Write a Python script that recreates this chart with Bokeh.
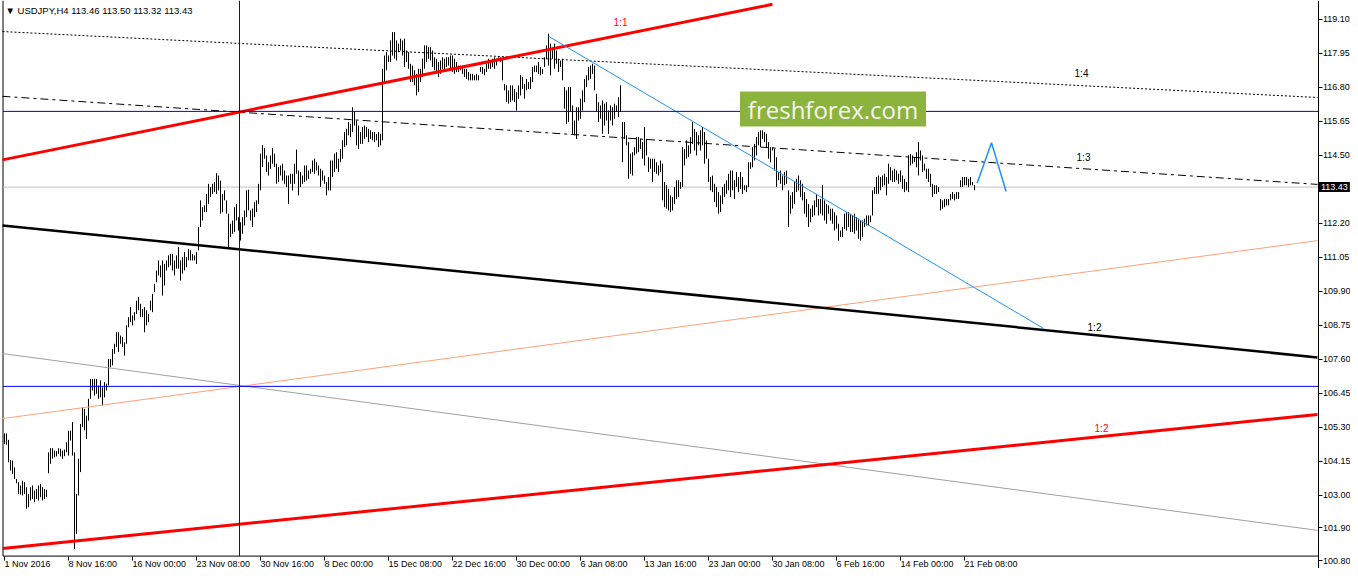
from bokeh.plotting import figure
from bokeh.models import FixedTicker, Label, NumeralTickFormatter, Range1d
from bokeh.embed import file_html
from bokeh.resources import INLINE

# ---------------- data ----------------
symbol_title = "\u25bc USDJPY,H4  113.46 113.50 113.32 113.43"
last_price = 113.43

# H4 bars (high, low), 1 Nov 2016 .. 23 Feb 2017
bars_nov = [
    (105.10, 104.74), (105.10, 104.72), (104.88, 104.12), (104.20, 103.84), (104.18, 103.73), (103.95, 103.56), (103.56, 103.41), (103.45, 103.05),
    (103.34, 103.03), (103.50, 103.00), (103.45, 103.05), (103.28, 102.55), (103.05, 102.60), (103.28, 102.83), (103.34, 102.88), (103.17, 102.77),
    (103.22, 102.88), (103.34, 102.83), (103.39, 102.94), (103.28, 102.83), (103.22, 102.88), (103.19, 102.94),
    (104.46, 103.75), (104.60, 104.07), (104.60, 104.24), (104.52, 104.29), (104.50, 104.32), (104.60, 104.41), (104.58, 104.32), (104.52, 104.24),
    (104.55, 104.33), (104.80, 104.46), (105.19, 104.35), (105.19, 104.86), (105.48, 104.35), (104.46, 101.19), (103.05, 101.70), (104.24, 103.00),
    (105.42, 103.79), (105.98, 105.31), (105.93, 105.20), (105.70, 104.91), (106.27, 105.53), (106.94, 106.27), (106.94, 106.55), (106.94, 106.38),
    (106.94, 106.44), (106.72, 106.27), (106.89, 106.32), (106.66, 106.04), (106.83, 106.32), (106.78, 106.55), (107.62, 106.72), (107.62, 107.34),
    (107.96, 107.40), (108.13, 107.79), (108.52, 108.02), (108.52, 107.85), (108.41, 108.13), (108.35, 108.02), (108.18, 107.73), (108.75, 108.13),
    (109.03, 108.69), (109.37, 108.86), (109.09, 108.75), (109.20, 108.92), (109.59, 109.14), (109.71, 109.26), (109.48, 109.03), (109.31, 109.03),
    (109.37, 108.52), (109.26, 108.75), (109.14, 108.86), (109.59, 109.26), (109.82, 109.20), (110.16, 109.88), (110.61, 110.21), (110.95, 110.44),
    (110.78, 110.38), (110.95, 109.76), (110.83, 110.10), (110.95, 110.61), (111.12, 110.72), (111.17, 110.78), (111.17, 110.61), (110.95, 110.44),
    (111.12, 110.67), (111.40, 110.67), (110.95, 110.27), (111.06, 110.50), (111.23, 110.61), (111.06, 110.72), (111.34, 110.95), (111.29, 110.95),
    (111.17, 110.95), (111.12, 110.95), (111.23, 110.83), (112.08, 111.29), (112.98, 112.08), (112.75, 112.30), (112.81, 112.58), (113.20, 112.58),
    (113.54, 112.86), (113.43, 113.09), (113.54, 113.20), (113.60, 113.26), (113.90, 113.20), (113.82, 113.32), (113.65, 112.53), (113.20, 112.58),
    (113.32, 112.98), (112.98, 112.53), (112.53, 111.40), (112.19, 111.74), (112.30, 111.85), (112.75, 111.91), (112.86, 112.30), (112.41, 111.96),
    (112.24, 111.62), (112.41, 111.85), (112.64, 112.13), (113.32, 112.41), (113.34, 112.64), (112.64, 112.30), (112.70, 112.08), (112.92, 112.41),
    (112.98, 112.58), (113.54, 112.86), (114.56, 113.32), (114.85, 114.11), (114.75, 114.39), (114.50, 113.94), (114.27, 113.82), (114.50, 114.05),
    (114.75, 114.22), (114.56, 114.11), (114.22, 113.54), (114.11, 113.60), (114.16, 113.82), (114.22, 113.65), (113.99, 113.54), (113.82, 113.43),
    (113.82, 112.86), (113.88, 113.54), (113.88, 113.32), (114.22, 113.54), (114.70, 113.88), (113.99, 113.15), (113.94, 113.43), (113.82, 113.54),
    (114.16, 113.60), (114.16, 113.65), (113.99, 113.71), (114.05, 113.88), (114.33, 113.94), (114.39, 113.88), (114.27, 113.99), (114.16, 113.82),
    (114.05, 113.43), (113.99, 113.65), (113.82, 113.54), (113.60, 113.15), (113.77, 113.32), (114.33, 113.32),
]

bars_dec = [
    (114.33, 113.77), (114.56, 113.94), (114.61, 114.05), (114.39, 113.94), (114.72, 114.27), (115.01, 114.39), (115.29, 114.78), (115.40, 114.84),
    (115.63, 115.18), (115.57, 115.12), (116.13, 115.29), (115.97, 115.51), (115.68, 114.84), (115.51, 114.72), (115.29, 114.89), (115.46, 114.89),
    (115.51, 115.06), (115.46, 115.12), (115.40, 114.95), (115.35, 115.06), (115.29, 115.01), (115.29, 114.95), (115.23, 115.01), (115.29, 114.78),
    (115.23, 114.84), (117.43, 115.01), (117.88, 116.98), (117.99, 117.38), (117.88, 117.66), (118.39, 117.66), (118.67, 117.88), (118.67, 117.77),
    (118.39, 117.71), (118.28, 117.99), (118.45, 118.05), (118.39, 117.88), (118.45, 117.49), (118.05, 117.66), (117.99, 117.43), (117.60, 116.98),
    (117.54, 116.98), (117.38, 116.87), (117.26, 116.53), (117.43, 116.64), (117.43, 116.98), (117.77, 117.15), (118.22, 117.43), (118.22, 117.66),
    (118.16, 117.77), (118.16, 117.71), (118.05, 117.49), (117.82, 117.38), (117.77, 117.32), (117.66, 117.15), (117.71, 117.26), (117.82, 117.43),
    (117.77, 117.38), (117.82, 117.49), (117.82, 117.54), (117.88, 117.43), (117.88, 117.32), (117.77, 117.26), (117.66, 117.32), (117.54, 117.32),
    (117.54, 117.38), (117.49, 117.26), (117.43, 117.15), (117.43, 117.09), (117.32, 117.04), (117.26, 117.04), (117.26, 117.04), (117.21, 117.04),
    (117.26, 117.04), (117.21, 117.04), (117.49, 117.32), (117.49, 117.26), (117.43, 117.21), (117.60, 117.32), (117.77, 117.43), (117.71, 117.43),
    (117.77, 117.49), (117.82, 117.43), (117.77, 117.54), (117.82, 117.71), (117.82, 117.66), (117.77, 117.04), (116.92, 116.70), (116.87, 116.30),
    (116.70, 116.25), (116.87, 116.30), (116.87, 116.36), (116.75, 116.30), (116.64, 116.02), (116.87, 116.42), (117.21, 116.53), (117.15, 116.75),
    (116.92, 116.42), (117.09, 116.70), (116.98, 116.75), (117.15, 116.75), (117.49, 116.98), (117.54, 117.32), (117.54, 117.32), (117.66, 117.26),
    (117.49, 117.21), (117.43, 117.26), (117.82, 117.49), (118.22, 117.77), (118.62, 117.54), (118.28, 117.21), (118.16, 117.77), (118.28, 117.43),
    (118.05, 117.60), (117.77, 117.32), (117.71, 117.49), (117.77, 117.04), (116.81, 116.08), (116.70, 115.57), (116.81, 115.63), (116.81, 115.97),
    (116.19, 115.23), (115.68, 115.18), (116.13, 115.06), (116.13, 115.68), (116.42, 115.74), (116.70, 116.02), (117.09, 116.30), (117.21, 116.81),
    (117.49, 117.04), (117.54, 117.09), (117.60, 117.26), (117.54, 116.70), (116.59, 115.97), (116.30, 115.63), (116.19, 115.74), (116.36, 115.23),
    (116.25, 115.51), (116.30, 115.68), (116.02, 115.23), (116.19, 115.68), (116.13, 115.51), (116.25, 115.74), (116.19, 115.97), (116.47, 115.80),
    (116.87, 115.97), (115.63, 114.27), (115.63, 115.06), (115.18, 114.84), (114.95, 113.71), (114.56, 113.88), (114.61, 113.82), (114.78, 114.50),
    (115.12, 114.56), (115.12, 114.61), (115.06, 114.72), (114.95, 114.39), (115.46, 114.16), (115.06, 114.50), (114.44, 113.94), (114.39, 114.05),
    (114.39, 113.60), (114.39, 113.94), (114.27, 113.88), (114.16, 113.82), (114.33, 113.94),
]

bars_jan = [
    (114.22, 112.98), (113.60, 112.75), (113.49, 112.70), (113.37, 112.64), (113.15, 112.58), (113.09, 112.64), (113.43, 112.86), (113.66, 113.03),
    (113.66, 113.09), (113.60, 113.37), (114.78, 113.43), (114.72, 114.16), (115.01, 114.39), (114.84, 114.44), (115.12, 114.56), (115.63, 114.89),
    (115.40, 114.67), (115.29, 114.50), (115.18, 114.84), (115.35, 114.67), (115.46, 114.84), (115.29, 114.22), (115.01, 114.39), (114.39, 113.60),
    (113.77, 113.32), (113.82, 113.26), (113.54, 112.92), (113.43, 112.75), (113.26, 112.53), (113.15, 112.58), (113.43, 112.86), (113.54, 113.09),
    (113.66, 113.20), (113.88, 113.32), (113.99, 113.09), (113.99, 113.32), (113.66, 113.03), (113.94, 113.43), (113.77, 113.26), (113.94, 113.37),
    (113.77, 113.20), (113.49, 113.32), (113.49, 113.26), (114.27, 113.43), (114.27, 114.05), (114.78, 114.10), (114.89, 114.33), (115.12, 114.50),
    (115.29, 114.84), (115.35, 114.78), (115.35, 115.06), (115.29, 114.95), (115.23, 114.78), (114.95, 114.39), (114.78, 114.27), (114.78, 114.67),
    (114.72, 113.99), (114.44, 113.43), (113.94, 113.66), (113.99, 113.54), (113.82, 113.32), (113.94, 113.49), (113.99, 113.54), (113.32, 112.08),
    (113.15, 112.53), (113.26, 112.70), (113.60, 112.86), (113.71, 113.26), (113.82, 113.32), (113.66, 113.09), (113.54, 112.98), (113.26, 112.53),
    (113.03, 112.41), (112.86, 112.08), (112.70, 112.24), (112.81, 112.41), (112.98, 112.47), (113.20, 112.75), (113.03, 112.47), (113.03, 112.53),
    (113.49, 112.47), (112.98, 112.30), (112.86, 112.19), (112.81, 112.53), (112.70, 112.30), (112.70, 112.19), (112.58, 111.96), (112.47, 112.02),
    (112.19, 111.62), (111.96, 111.74), (112.08, 111.74), (112.53, 112.02), (112.58, 111.96), (112.58, 112.08), (112.53, 111.91), (112.47, 111.91),
    (112.53, 111.85), (112.41, 111.96), (112.36, 111.68), (112.30, 111.62), (112.30, 111.74), (112.36, 112.08), (112.47, 112.13), (112.47, 112.13),
    (112.47, 112.24), (113.32, 112.47), (113.43, 113.20), (113.77, 113.20), (113.82, 113.20), (113.77, 113.32), (113.82, 113.43), (113.88, 113.49),
    (113.77, 113.15), (114.22, 113.54), (114.10, 113.66), (113.99, 113.60), (114.05, 113.60), (113.99, 113.66), (113.88, 113.54), (113.99, 113.60),
    (113.82, 113.37), (113.71, 113.26), (113.60, 113.32), (114.50, 113.26), (114.55, 114.16), (114.50, 114.22), (114.44, 114.27), (114.61, 114.10),
    (114.95, 113.82), (114.67, 114.33), (114.50, 113.94), (114.22, 113.99), (114.05, 113.71), (114.05, 113.60), (113.88, 113.43), (113.54, 113.09),
    (113.49, 113.20), (113.49, 113.20), (113.43, 113.26), (113.03, 112.64), (112.98, 112.70), (113.03, 112.75), (113.03, 112.81), (113.03, 112.81),
    (113.20, 112.98), (113.26, 113.03), (113.20, 112.98), (113.26, 113.03), (113.26, 113.03), (113.66, 113.43), (113.77, 113.43), (113.77, 113.49),
    (113.77, 113.49), (113.71, 113.43), (113.77, 113.49), (113.60, 113.49), (113.50, 113.32),
]

all_bars = bars_nov + bars_dec + bars_jan
highs = [b[0] for b in all_bars]
lows = [b[1] for b in all_bars]
bar_idx = list(range(len(all_bars)))

x_tick_bars = [0, 32, 64, 96, 128, 160, 192, 224, 256, 288, 320, 352, 384, 416, 448, 480]
x_tick_labels = ["1 Nov 2016", "8 Nov 16:00", "16 Nov 00:00", "23 Nov 08:00", "30 Nov 16:00",
                 "8 Dec 00:00", "15 Dec 08:00", "22 Dec 16:00", "30 Dec 00:00", "6 Jan 08:00",
                 "13 Jan 16:00", "23 Jan 00:00", "30 Jan 08:00", "6 Feb 16:00", "14 Feb 00:00",
                 "21 Feb 08:00"]
y_ticks = [119.10, 117.95, 116.80, 115.65, 114.50, 112.20, 111.05, 109.90, 108.75,
           107.60, 106.45, 105.30, 104.15, 103.00, 101.90, 100.80]

# drawn objects: (bar0, price0, bar1, price1)
red_upper = (-1, 114.35, 384, 119.61)
red_lower = (-1, 101.21, 656.5, 105.74)
black_main = (-1, 112.13, 656.5, 107.67)
salmon_line = (-1, 105.60, 656.5, 111.62)
gray_line = (-1, 107.80, 656.5, 101.82)
dotted_14 = (-1, 118.69, 656.5, 116.46)
dashdot_13 = (-1, 116.50, 656.5, 113.52)
blue_diag = (272, 118.53, 519.5, 108.65)
zigzag_bars = [486.3, 493.5, 500.8]
zigzag_prices = [113.56, 114.93, 113.28]
hline_upper = 115.99
hline_lower = 106.69
vline_bar = 117.5

ratio_labels = [("1:1", 308, 119.00, "#ff0000"), ("1:4", 538.5, 117.27, "black"),
                ("1:3", 539.5, 114.43, "black"), ("1:2", 545, 108.68, "black"),
                ("1:2", 548.5, 105.27, "#ff0000")]

# ---------------- layout constants ----------------
FONT = "Liberation Sans"
X_VIEW = (-2.0, 673.0)        # 2 px per bar across the whole canvas
Y_VIEW = (100.53, 119.74)
X_LEFT_EDGE = -0.75           # chart's left border
X_RIGHT_EDGE = 656.75         # price scale position
Y_TIME_AXIS = 100.95          # time scale position

p = figure(width=1350, height=568, x_range=Range1d(*X_VIEW), y_range=Range1d(*Y_VIEW),
           output_backend="svg", toolbar_location=None, y_axis_location="right",
           min_border_left=0, min_border_top=0, min_border_right=0, min_border_bottom=0)
p.grid.visible = False
p.outline_line_color = None
p.background_fill_color = "white"
p.border_fill_color = "white"

# price scale at the right edge of the chart
ya = p.yaxis[0]
ya.fixed_location = X_RIGHT_EDGE
ya.ticker = FixedTicker(ticks=y_ticks)
ya.formatter = NumeralTickFormatter(format="0.00")
ya.major_tick_out = 4
ya.major_tick_in = 0
ya.minor_tick_out = 0
ya.minor_tick_in = 0
ya.major_label_standoff = 1
ya.major_label_text_font = FONT
ya.major_label_text_font_size = "9px"
ya.major_label_text_color = "black"
ya.axis_line_color = "black"

# time scale, labels start at their tick
xa = p.xaxis[0]
xa.fixed_location = Y_TIME_AXIS
xa.ticker = FixedTicker(ticks=x_tick_bars)
xa.major_label_overrides = {t: s for t, s in zip(x_tick_bars, x_tick_labels)}
xa.major_label_orientation = -0.0001
xa.major_tick_out = 4
xa.major_tick_in = 0
xa.minor_tick_out = 0
xa.minor_tick_in = 0
xa.major_label_standoff = 4
xa.major_label_text_font = FONT
xa.major_label_text_font_size = "9px"
xa.major_label_text_color = "black"
xa.axis_line_color = None

# chart borders (left and bottom)
p.segment(x0=[X_LEFT_EDGE, X_LEFT_EDGE], y0=[Y_TIME_AXIS, Y_TIME_AXIS],
          x1=[X_LEFT_EDGE, X_RIGHT_EDGE], y1=[Y_VIEW[1], Y_TIME_AXIS], line_color="black", line_width=1)

# bid line
p.segment(x0=[X_LEFT_EDGE], y0=[last_price], x1=[X_RIGHT_EDGE], y1=[last_price], line_color="#c0c0c0", line_width=1)

# price bars
p.segment(x0=bar_idx, y0=lows, x1=bar_idx, y1=highs, line_color="black", line_width=1)

# objects
def seg(obj, color, width, dash="solid"):
    p.line(x=[obj[0], obj[2]], y=[obj[1], obj[3]], line_color=color, line_width=width, line_dash=dash)

seg(gray_line, "#a0a0a0", 1)
seg(salmon_line, "#ffa07a", 1)
seg(dotted_14, "black", 1, "2 2")
seg(dashdot_13, "black", 1, "8 4 3 4")
seg(black_main, "black", 2.5)
seg(red_lower, "#ff0000", 3)
seg(red_upper, "#ff0000", 3)
seg(blue_diag, "#1e90ff", 1)
p.line(x=zigzag_bars, y=zigzag_prices, line_color="#1e90ff", line_width=1.5)

p.segment(x0=[X_LEFT_EDGE], y0=[hline_upper], x1=[X_RIGHT_EDGE], y1=[hline_upper], line_color="#0000cd", line_width=1)
p.segment(x0=[X_LEFT_EDGE], y0=[hline_lower], x1=[X_RIGHT_EDGE], y1=[hline_lower], line_color="#0000ff", line_width=1)
p.segment(x0=[vline_bar], y0=[Y_TIME_AXIS], x1=[vline_bar], y1=[Y_VIEW[1]], line_color="#0000ff", line_width=1)

for txt, bx, py, col in ratio_labels:
    p.add_layout(Label(x=bx, y=py, text=txt, text_color=col, text_font=FONT, text_font_size="10px",
                       text_align="center", text_baseline="middle"))

# logo
p.quad(left=[367.75], right=[460.75], top=[116.66], bottom=[115.48], fill_color="#8db33f", line_color=None)
p.add_layout(Label(x=414.25, y=116.07, text="freshforex.com", text_color="#f3f6e9", text_font="Open Sans",
                   text_font_size="24px", text_align="center", text_baseline="middle"))

# symbol title
p.add_layout(Label(x=5, x_units="screen", y=119.40, text=symbol_title, text_color="black",
                   text_font=FONT, text_font_size="9.5px", text_baseline="middle"))

# current price tag on the price scale
p.add_layout(Label(x=X_RIGHT_EDGE, y=last_price, x_offset=1, text=f"{last_price:.2f}", text_color="white",
                   background_fill_color="black", text_font=FONT, text_font_size="9px",
                   text_align="left", text_baseline="middle", padding=2))

open("out.html", "w").write(file_html(p, INLINE))
